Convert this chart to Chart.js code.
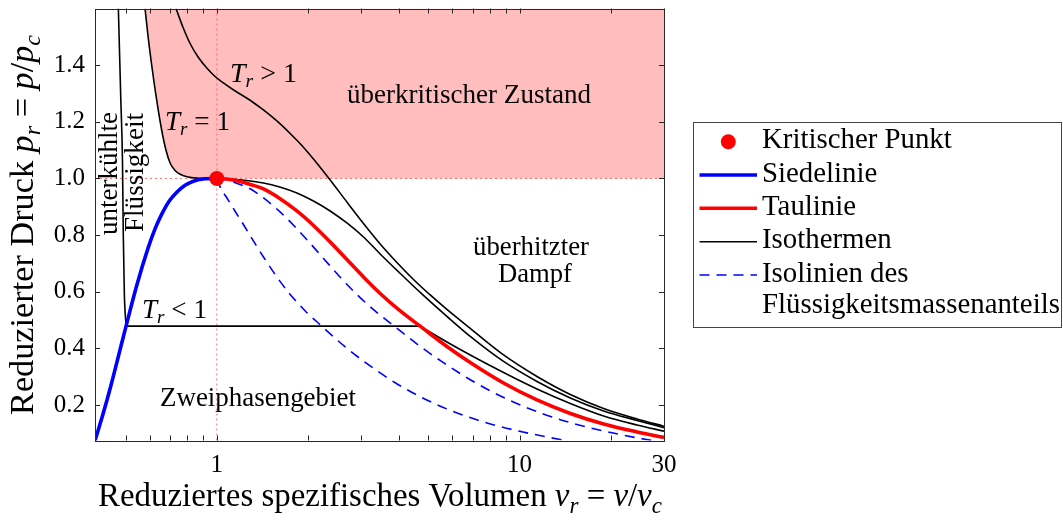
<!DOCTYPE html>
<html><head><meta charset="utf-8">
<script src="https://cdn.jsdelivr.net/npm/chart.js@4.4.1/dist/chart.umd.min.js"></script>
<style>html,body{margin:0;padding:0;background:#fff;}#wrap{width:1063px;height:520px;position:relative;}</style>
</head><body><div id="wrap"><canvas id="c" width="1063" height="520"></canvas></div>
<script>
// ---- axis ranges & ticks ----
const xMin = 0.396, xMax = 30, yMin = 0.075, yMax = 1.6;
const xTickValues = [1, 10, 30];
const xMinorTicks = [0.5, 0.6, 0.7, 0.8, 0.9, 2, 3, 4, 5, 6, 7, 8, 9, 20];
const yTickValues = [0.2, 0.4, 0.6, 0.8, 1.0, 1.2, 1.4];

// ---- critical point ----
const critV = [1.0];
const critP = [1.0];

// ---- Siedelinie (boiling line) ----
const siedeV = [0.3962, 0.4202, 0.4457, 0.4727, 0.5015, 0.5439, 0.5943, 0.6252, 0.6579, 0.6957, 0.7377, 0.7856, 0.8368, 0.9149, 1.0];
const siedeP = [0.0752, 0.1656, 0.2640, 0.3706, 0.4786, 0.6223, 0.7575, 0.8221, 0.8740, 0.9199, 0.9515, 0.9760, 0.9903, 0.9988, 1.0];

// ---- Taulinie (dew line) ----
const tauV = [1.0, 1.1065, 1.194, 1.3083, 1.4256, 1.614, 1.8385, 2.0857, 2.3684, 2.6895, 3.0513, 3.4647, 4.035, 4.6967, 5.7554, 6.8722, 8.8533, 11.417, 14.711, 18.951, 24.433, 30];
const tauP = [1.0, 0.9965, 0.9894, 0.9771, 0.9629, 0.9294, 0.8853, 0.8341, 0.7759, 0.7141, 0.6524, 0.5941, 0.5323, 0.4786, 0.4070, 0.3505, 0.2781, 0.2181, 0.1705, 0.1334, 0.1052, 0.0858];

// ---- Isotherme T_r < 1 ----
const isoLowLiqV = [0.473, 0.482, 0.488, 0.491, 0.495, 0.5015];
const isoLowLiqP = [1.6, 1.275, 1.0635, 0.806, 0.594, 0.4786];
const isoLowPlateauV = [0.5015, 4.6967];
const isoLowPlateauP = [0.4786, 0.4786];
const isoLowVapV = [4.6967, 5.7554, 6.8722, 8.8533, 11.417, 14.711, 18.951, 24.433, 30];
const isoLowVapP = [0.4786, 0.4229, 0.3770, 0.3152, 0.2570, 0.2058, 0.1617, 0.1299, 0.1080];

// ---- Isotherme T_r = 1 ----
const isoCritV = [0.5795, 0.5929, 0.6097, 0.6333, 0.6579, 0.6799, 0.7010, 0.7283, 0.7565, 0.8039, 0.8808, 1.0, 1.194, 1.4256, 1.614, 1.8385, 2.0857, 2.3684, 2.6895, 3.0513, 3.4647, 4.035, 4.6967, 5.7554, 6.8722, 8.8533, 11.417, 14.711, 18.951, 24.433, 30];
const isoCritP = [1.599, 1.5012, 1.3988, 1.2753, 1.1694, 1.0988, 1.0547, 1.0282, 1.0148, 1.0053, 1.0007, 1.0, 0.99541, 0.98412, 0.97, 0.94882, 0.92058, 0.88528, 0.84292, 0.79351, 0.7335, 0.66467, 0.5976, 0.51288, 0.44229, 0.35404, 0.28345, 0.22521, 0.17932, 0.14578, 0.12001];

// ---- Isotherme T_r > 1 ----
const isoHighV = [0.7337, 0.7738, 0.8161, 0.8673, 0.9268, 0.9871, 1.0515, 1.1233, 1.194, 1.3053, 1.4256, 1.579, 1.7468, 1.9093, 2.0857, 2.3684, 2.6895, 3.0513, 3.4647, 3.9348, 4.4634, 5.0687, 5.7554, 6.8722, 8.8533, 11.417, 14.711, 18.951, 24.433, 30];
const isoHighP = [1.599, 1.533, 1.4765, 1.4289, 1.39, 1.36, 1.3371, 1.3159, 1.2983, 1.2718, 1.2418, 1.203, 1.1588, 1.1165, 1.0688, 0.9947, 0.917, 0.8412, 0.7688, 0.7035, 0.6435, 0.5888, 0.5376, 0.4705, 0.377, 0.3011, 0.2376, 0.1882, 0.1511, 0.1253];

// ---- Isolinien des Flüssigkeitsmassenanteils ----
const qualAV = [1.0, 1.0664, 1.1238, 1.2062, 1.293, 1.4339, 1.6044, 1.7957, 2.0156, 2.2672, 2.5521, 2.8789, 3.3315, 3.8577, 4.701, 5.591, 7.172, 9.22, 11.853, 15.243, 19.627, 24.08, 27.4];
const qualAP = [1.0, 0.9965, 0.9894, 0.9771, 0.9629, 0.9294, 0.8853, 0.8341, 0.7759, 0.7141, 0.6524, 0.5941, 0.5323, 0.4786, 0.4070, 0.3505, 0.2781, 0.2181, 0.1705, 0.1334, 0.1052, 0.0858, 0.075];
const qualBV = [1.0, 1.0335, 1.0827, 1.1478, 1.2301, 1.3275, 1.4438, 1.5785, 1.7365, 1.9596, 2.2215, 2.6443, 3.0935, 3.8949, 4.9368, 6.2802, 8.0127, 10.256, 12.535, 14.2];
const qualBP = [1.0, 0.9629, 0.9294, 0.8853, 0.8341, 0.7759, 0.7141, 0.6524, 0.5941, 0.5323, 0.4786, 0.4070, 0.3505, 0.2781, 0.2181, 0.1705, 0.1334, 0.1052, 0.0858, 0.075];

// ---- texts ----
const legendLabels = ['Kritischer Punkt', 'Siedelinie', 'Taulinie', 'Isothermen', 'Isolinien des', 'Flüssigkeitsmassenanteils'];

const FONT = '"Liberation Serif", "DejaVu Serif", serif';
const pts = (v, p) => v.map((x, i) => ({x: x, y: p[i]}));

// pink region: T_r=1 isotherm above p=1, then p=1 up to right edge
const fillV = isoCritV.filter(v => v <= critV[0]).concat([xMax]);
const fillP = isoCritP.slice(0, fillV.length - 1).concat([critP[0]]);

const BLUE = '#0000ff', RED = '#ff0000';
const line = (data, color, width, extra) => Object.assign({
  data: data, borderColor: color, borderWidth: width, pointRadius: 0, fill: false,
  cubicInterpolationMode: 'monotone', order: 5
}, extra || {});

function fontFor(s, size) { return (s.it ? 'italic ' : '') + (s.sub ? size * 0.7 : size).toFixed(2) + 'px ' + FONT; }
function richWidth(ctx, segs, size) { let w = 0; for (const s of segs) { ctx.font = fontFor(s, size); w += ctx.measureText(s.t).width; } return w; }
function drawRich(ctx, segs, x, y, size, align, rot, targetW) {
  if (targetW) { size = size * targetW / richWidth(ctx, segs, size); }
  const w = richWidth(ctx, segs, size);
  ctx.save(); ctx.translate(x, y); if (rot) ctx.rotate(rot);
  let cx = align === 'center' ? -w / 2 : (align === 'right' ? -w : 0);
  ctx.textBaseline = 'alphabetic'; ctx.textAlign = 'left'; ctx.fillStyle = '#000';
  for (const s of segs) { ctx.font = fontFor(s, size); ctx.fillText(s.t, cx, s.sub ? size * 0.2 : 0); cx += ctx.measureText(s.t).width; }
  ctx.restore();
  return size;
}
const T = t => ({t: t});
const I = t => ({t: t, it: true});
const S = t => ({t: t, it: true, sub: true});

const framePlugin = {
  id: 'frame',
  afterDatasetsDraw(chart) {
    const ctx = chart.ctx, a = chart.chartArea, xs = chart.scales.x, ys = chart.scales.y;
    ctx.save();
    ctx.strokeStyle = '#262626'; ctx.lineWidth = 1;
    ctx.beginPath();
    const L = 5;
    for (const v of xTickValues.concat(xMinorTicks)) {
      const px = Math.round(xs.getPixelForValue(v)) + 0.5;
      ctx.moveTo(px, a.bottom); ctx.lineTo(px, a.bottom - L);
      ctx.moveTo(px, a.top); ctx.lineTo(px, a.top + L);
    }
    for (const v of yTickValues) {
      const py = Math.round(ys.getPixelForValue(v)) + 0.5;
      ctx.moveTo(a.left, py); ctx.lineTo(a.left + L, py);
      ctx.moveTo(a.right, py); ctx.lineTo(a.right - L, py);
    }
    ctx.stroke();
    ctx.strokeRect(Math.round(a.left) + 0.5, Math.round(a.top) + 0.5, Math.round(a.right - a.left), Math.round(a.bottom - a.top));
    ctx.restore();
  },
  afterDraw(chart) {
    const ctx = chart.ctx;
    // in-plot annotations
    drawRich(ctx, [I('T'), S('r'), T(' > 1')], 230, 81.5, 22, 'left', 0, 67);
    drawRich(ctx, [I('T'), S('r'), T(' = 1')], 165, 130, 22, 'left', 0, 65);
    drawRich(ctx, [I('T'), S('r'), T(' < 1')], 142, 318, 22, 'left', 0, 65);
    drawRich(ctx, [T('überkritischer Zustand')], 347, 102.5, 22, 'left', 0, 244);
    drawRich(ctx, [T('überhitzter')], 531, 255, 22, 'center', 0, 116);
    drawRich(ctx, [T('Dampf')], 535, 281.5, 22, 'center', 0, 74);
    drawRich(ctx, [T('Zweiphasengebiet')], 160, 405.5, 22, 'left', 0, 196);
    drawRich(ctx, [T('unterkühlte')], 116.5, 173.5, 22, 'center', -Math.PI / 2, 123);
    drawRich(ctx, [T('Flüssigkeit')], 143, 172.5, 22, 'center', -Math.PI / 2, 119);
    // axis titles
    drawRich(ctx, [T('Reduziertes spezifisches Volumen '), I('v'), S('r'), T(' = '), I('v'), T('/'), I('v'), S('c')], 380, 506, 25, 'center', 0, 564);
    drawRich(ctx, [T('Reduzierter Druck '), I('p'), S('r'), T(' = '), I('p'), T('/'), I('p'), S('c')], 33, 225, 25, 'center', -Math.PI / 2, 380);
    // legend
    const bx = 693.5, by = 122.5, bw = 368, bh = 205;
    ctx.save();
    ctx.fillStyle = '#fff'; ctx.fillRect(bx, by, bw, bh);
    ctx.strokeStyle = '#444'; ctx.lineWidth = 1; ctx.strokeRect(bx, by, bw, bh);
    const ds = chart.data.datasets;
    const rows = [141.7, 175, 208.3, 241.7, 275];
    const samples = [ds.find(d => d.label === 'Kritischer Punkt'), ds.find(d => d.label === 'Siedelinie'), ds.find(d => d.label === 'Taulinie'), ds.find(d => d.label === 'Isothermen'), ds.find(d => d.label === 'Isolinien des Flüssigkeitsmassenanteils')];
    ctx.fillStyle = samples[0].pointBackgroundColor;
    ctx.beginPath(); ctx.arc(728.3, rows[0], samples[0].pointRadius, 0, Math.PI * 2); ctx.fill();
    for (let i = 1; i < 5; i++) {
      const d = samples[i];
      ctx.strokeStyle = d.borderColor; ctx.lineWidth = d.borderWidth;
      ctx.setLineDash(d.borderDash || []);
      ctx.beginPath(); ctx.moveTo(699.5, rows[i]); ctx.lineTo(757, rows[i]); ctx.stroke();
    }
    ctx.setLineDash([]);
    ctx.restore();
    const lsize = drawRich(ctx, [T(legendLabels[5])], 762, 313, 23, 'left', 0, 298);
    const bases = [148.3, 181.7, 215, 248.3, 281.7];
    for (let i = 0; i < 5; i++) drawRich(ctx, [T(legendLabels[i])], 762, bases[i], lsize, 'left', 0);
  }
};

const chart = new Chart(document.getElementById('c'), {
  type: 'line',
  data: {
    datasets: [
      line(pts(fillV, fillP), 'rgba(0,0,0,0)', 0, {label: 'überkritisch', fill: 'end', backgroundColor: 'rgba(255,0,0,0.26)', order: 20}),
      line(pts([xMin, xMax], [critP[0], critP[0]]), 'rgb(255,110,110)', 1, {label: 'p=1', borderDash: [2, 3], order: 19, cubicInterpolationMode: 'default', tension: 0}),
      line(pts([critV[0], critV[0]], [yMin, yMax]), 'rgb(255,110,110)', 1, {label: 'v=1', borderDash: [2, 3], order: 19, cubicInterpolationMode: 'default', tension: 0}),
      line(pts(qualAV, qualAP), BLUE, 1.6, {label: 'Isolinien des Flüssigkeitsmassenanteils', borderDash: [10, 7], order: 8}),
      line(pts(qualBV, qualBP), BLUE, 1.6, {label: 'qualB', borderDash: [10, 7], order: 8}),
      line(pts(isoLowLiqV, isoLowLiqP), '#000', 1.6, {label: 'Isothermen', order: 7}),
      line(pts(isoLowPlateauV, isoLowPlateauP), '#000', 1.6, {label: 'isoLowPlateau', order: 7, cubicInterpolationMode: 'default', tension: 0}),
      line(pts(isoLowVapV, isoLowVapP), '#000', 1.6, {label: 'isoLowVap', order: 7}),
      line(pts(isoCritV, isoCritP), '#000', 1.6, {label: 'isoCrit', order: 7}),
      line(pts(isoHighV, isoHighP), '#000', 1.6, {label: 'isoHigh', order: 7}),
      line(pts(tauV, tauP), RED, 3.6, {label: 'Taulinie', order: 4}),
      line(pts(siedeV, siedeP), BLUE, 3.6, {label: 'Siedelinie', order: 3}),
      {label: 'Kritischer Punkt', data: pts(critV, critP), showLine: false, pointRadius: 7.5, pointBackgroundColor: RED, pointBorderWidth: 0, borderColor: RED, order: 0}
    ]
  },
  options: {
    animation: false, responsive: false, events: [],
    layout: {padding: {left: 50, right: 399, top: 8.5, bottom: 0}},
    plugins: {legend: {display: false}, tooltip: {enabled: false}},
    scales: {
      x: {
        type: 'logarithmic', min: xMin, max: xMax,
        afterBuildTicks: s => { s.ticks = xTickValues.map(v => ({value: v})); },
        afterFit: s => { s.height = 79.5; s.paddingLeft = 0; s.paddingRight = 0; },
        grid: {display: false, drawTicks: false}, border: {display: false},
        ticks: {callback: v => String(v), autoSkip: false, maxRotation: 0, color: '#000', padding: 10, font: {family: FONT, size: 25}}
      },
      y: {
        type: 'linear', min: yMin, max: yMax,
        afterBuildTicks: s => { s.ticks = yTickValues.map(v => ({value: v})); },
        afterFit: s => { s.width = 45; s.paddingTop = 0; s.paddingBottom = 0; },
        grid: {display: false, drawTicks: false}, border: {display: false},
        ticks: {callback: v => v.toFixed(1), autoSkip: false, color: '#000', padding: 10, font: {family: FONT, size: 25}}
      }
    }
  },
  plugins: [framePlugin]
});
</script></body></html>
